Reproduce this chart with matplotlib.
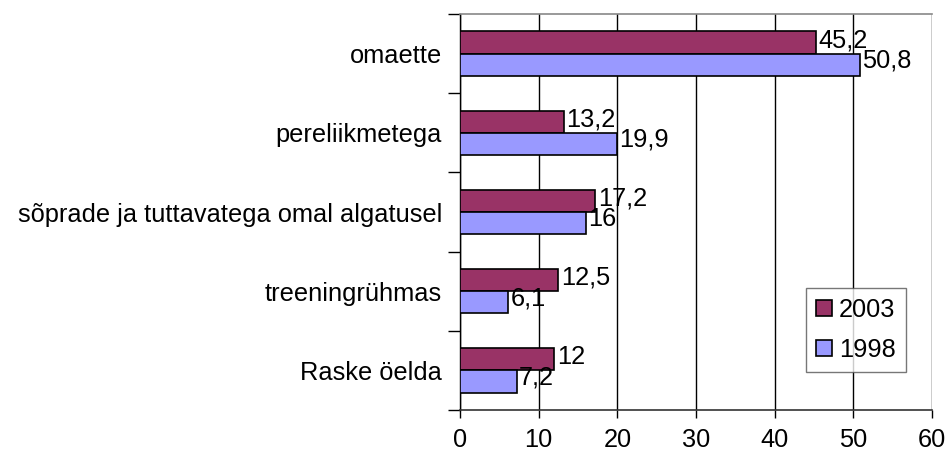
import matplotlib.pyplot as plt
import numpy as np

plt.rcParams['font.family'] = ['Liberation Sans', 'DejaVu Sans']

categories = ["omaette", "pereliikmetega", "sõprade ja tuttavatega omal algatusel",
              "treeningrühmas", "Raske öelda"]
values_2003 = [45.2, 13.2, 17.2, 12.5, 12]
values_1998 = [50.8, 19.9, 16, 6.1, 7.2]
labels_2003 = ["45,2", "13,2", "17,2", "12,5", "12"]
labels_1998 = ["50,8", "19,9", "16", "6,1", "7,2"]

FS = 18.3

fig = plt.figure(figsize=(9.49, 4.57), dpi=100)
ax = fig.add_axes([0.4847, 0.1028, 0.4974, 0.8665])

y = np.arange(len(categories))
h = 0.28
b1 = ax.barh(y - h / 2, values_2003, height=h, color="#993366", edgecolor="black",
             linewidth=1.2, label="2003", zorder=3)
b2 = ax.barh(y + h / 2, values_1998, height=h, color="#9999FF", edgecolor="black",
             linewidth=1.2, label="1998", zorder=3)

for bar, lab in zip(b1, labels_2003):
    ax.text(bar.get_width() + 0.3, bar.get_y() + bar.get_height() / 2 - 0.03, lab,
            va="center", ha="left", fontsize=FS, zorder=4)
for bar, lab in zip(b2, labels_1998):
    ax.text(bar.get_width() + 0.3, bar.get_y() + bar.get_height() / 2 - 0.05, lab,
            va="center", ha="left", fontsize=FS, zorder=4)

ax.set_xlim(0, 60)
ax.set_ylim(len(categories) - 0.5, -0.5)
ax.set_xticks(range(0, 61, 10))
ax.tick_params(axis="x", labelsize=FS, length=6, width=1, pad=7)

# category labels between boundary ticks
ax.set_yticks(np.arange(len(categories) + 1) - 0.5)
ax.set_yticklabels([])
ax.tick_params(axis="y", length=9, width=1)
ax.set_yticks(y, minor=True)
ax.set_yticklabels(categories, minor=True, fontsize=FS)
ax.tick_params(axis="y", which="minor", length=0, pad=13)

ax.grid(axis="x", color="black", linewidth=1, zorder=0)
ax.spines["right"].set_visible(False)
ax.spines["top"].set_color("#888888")
ax.spines["top"].set_linewidth(1.2)
ax.spines["left"].set_linewidth(1)
ax.spines["bottom"].set_linewidth(1.2)
ax.spines["bottom"].set_color("#333333")

leg = ax.legend(loc="lower right", bbox_to_anchor=(0.945, 0.095), fontsize=FS,
                frameon=True, fancybox=False, edgecolor="#555555",
                handlelength=0.6, handleheight=0.6, handletextpad=0.3,
                labelspacing=0.65, borderpad=0.4, borderaxespad=0)
leg.get_frame().set_linewidth(1)

fig.savefig("out.png", dpi=100)
